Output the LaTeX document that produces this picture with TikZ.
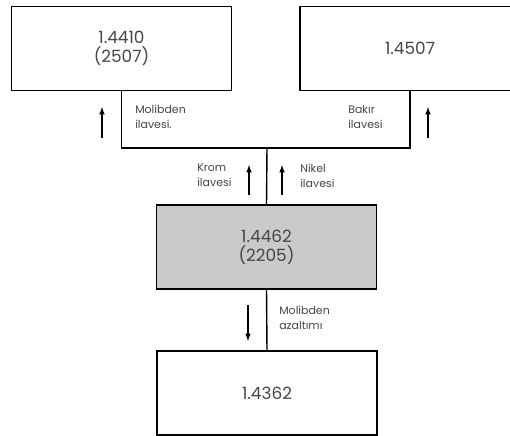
\documentclass[tikz,border=0pt]{standalone}
\usepackage{fontspec}
\setmainfont{Poppins}
\usepackage{xcolor}
\usetikzlibrary{arrows,positioning}
\definecolor{txtgray}{HTML}{454545}
\definecolor{boxgray}{HTML}{CACACA}

\begin{document}
\begin{tikzpicture}[x=0.025cm,y=-0.025cm,
  grade/.style={draw,line width=1pt,minimum width=5.5cm,minimum height=2.1cm,
    align=center,text=txtgray,font=\fontsize{12}{13.5}\selectfont},
  note/.style={align=left,text=txtgray,font=\fontsize{7.8}{10.5}\selectfont,inner sep=0pt},
  hint/.style={-latex,line width=0.8pt}]
\useasboundingbox (0,0) rectangle (510,435);
% boxes
\node [grade] (duplex) at (121.5,48.5) {1.4410\\(2507)};
\node [grade] (cu) at (410,48.5) {1.4507};
\node [grade,fill=boxgray] (base) at (266.5,247) {1.4462\\(2205)};
\node [grade] (lean) at (267,393) {1.4362};
% lines
\coordinate (split) at (267,148);
\draw [line width=1pt] (duplex.south) |- (split) -| (cu.south);
\draw [line width=1pt] (split) -- (base.north);
\draw [line width=1pt] (base.south) -- (lean.north);
% arrows and labels
\draw [hint] (102,138) -- (102,107);
\node [note,anchor=north west] (mo) at (135,105) {Molibden\\ilavesi.};
\draw [hint] (428,138) -- (428,107);
\node [note,anchor=north west] (bakir) at (348,105) {Bakır\\ilavesi};
\draw [hint] (249,195) -- (249,165);
\node [note,anchor=north west] (krom) at (197,164) {Krom\\ilavesi};
\draw [hint] (282,195) -- (282,165);
\node [note,anchor=north west] (nikel) at (300,164) {Nikel\\ilavesi};
\draw [hint] (248,305) -- (248,341);
\node [note,anchor=north west] (azal) at (279,306) {Molibden\\azaltımı};
\end{tikzpicture}
\end{document}
